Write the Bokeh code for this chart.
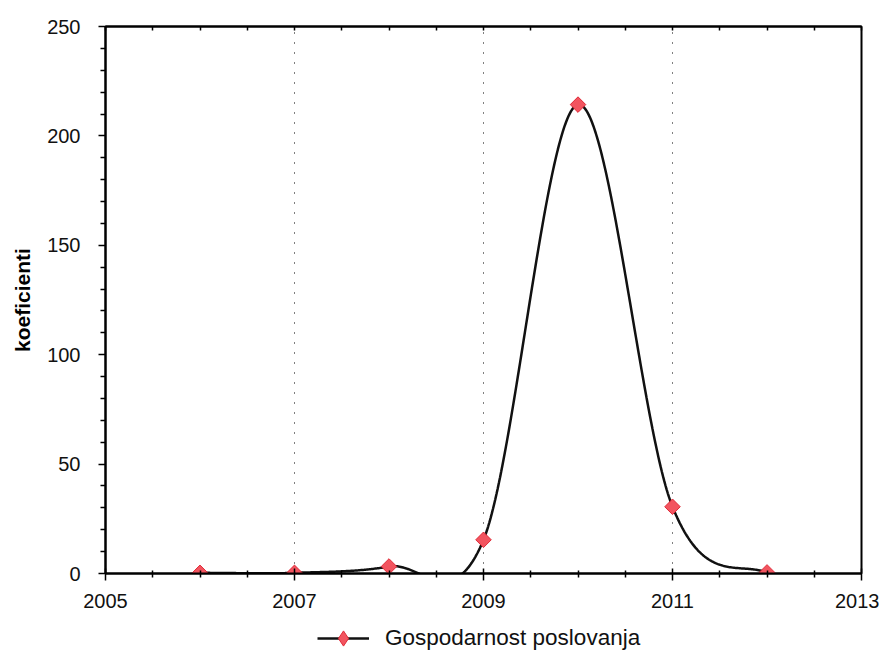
import numpy as np
from bokeh.plotting import figure
from bokeh.layouts import column
from bokeh.models import (Range1d, LinearAxis, FixedTicker, Legend, LegendItem,
                          ColumnDataSource)
from bokeh.embed import file_html
from bokeh.resources import INLINE

years = [2006, 2007, 2008, 2009, 2010, 2011, 2012]
values = [0.3, 0.3, 3.2, 15.4, 214.3, 30.5, 0.5]
series_name = "Gospodarnost poslovanja"
y_label = "koeficienti"
x_major_ticks = [2005, 2007, 2009, 2011, 2013]
x_minor_ticks = [2005.5, 2006, 2006.5, 2007.5, 2008, 2008.5, 2009.5, 2010, 2010.5,
                 2011.5, 2012, 2012.5]
y_major_ticks = [0, 50, 100, 150, 200, 250]
y_minor_ticks = [10, 20, 30, 40, 60, 70, 80, 90, 110, 120, 130, 140, 160, 170, 180, 190,
                 210, 220, 230, 240]

FONT = "Liberation Sans"
LINE_COLOR = "#111111"
MARK_FILL = "#f2545f"
MARK_LINE = "#e02a38"


def catmull_rom(x, y, samples=80):
    # smoothing of the series (cubic Hermite, Catmull-Rom tangents, duplicated end points)
    x = np.asarray(x, float)
    y = np.asarray(y, float)
    n = len(x)
    m = np.zeros(n)
    for i in range(n):
        lo = max(i - 1, 0)
        hi = min(i + 1, n - 1)
        m[i] = (y[hi] - y[lo]) / 2.0 / (x[1] - x[0])
    xs, ys = [], []
    for i in range(n - 1):
        h = x[i + 1] - x[i]
        t = np.linspace(0, 1, samples, endpoint=(i == n - 2))
        h00 = 2 * t ** 3 - 3 * t ** 2 + 1
        h10 = t ** 3 - 2 * t ** 2 + t
        h01 = -2 * t ** 3 + 3 * t ** 2
        h11 = t ** 3 - t ** 2
        xs.append(x[i] + t * h)
        ys.append(h00 * y[i] + h10 * h * m[i] + h01 * y[i + 1] + h11 * h * m[i + 1])
    return np.concatenate(xs), np.concatenate(ys)


xs, ys = catmull_rom(years, values)

p = figure(width=879, height=612, output_backend="svg", toolbar_location=None,
           x_range=Range1d(2005, 2013), y_range=Range1d(0, 250),
           min_border_left=105, min_border_right=18, min_border_top=26, min_border_bottom=39,
           x_axis_location=None, y_axis_location=None)
p.outline_line_color = "black"
p.outline_line_width = 2
p.background_fill_color = "white"
p.border_fill_color = "white"

xticker = FixedTicker(ticks=x_major_ticks, minor_ticks=x_minor_ticks)
yticker = FixedTicker(ticks=y_major_ticks, minor_ticks=y_minor_ticks)

xb = LinearAxis(ticker=xticker)
xb.axis_line_width = 2
xb.major_tick_in = 5
xb.major_tick_out = 7
xb.minor_tick_in = 3
xb.minor_tick_out = 4
xb.major_tick_line_width = 1.5
xb.minor_tick_line_width = 1.5
xb.major_label_text_font = FONT
xb.major_label_text_font_size = "20px"
xb.major_label_text_color = "#111"
xb.major_label_standoff = 13
p.add_layout(xb, "below")

xt = LinearAxis(ticker=FixedTicker(ticks=x_major_ticks + x_minor_ticks))
xt.axis_line_width = 2
xt.major_tick_in = 4
xt.major_tick_out = 0
xt.minor_tick_in = 0
xt.minor_tick_out = 0
xt.major_tick_line_width = 1.5
xt.major_label_text_font_size = "1px"
xt.major_label_text_color = None
xt.major_label_standoff = 0
p.add_layout(xt, "above")

yl = LinearAxis(ticker=yticker)
yl.axis_line_width = 2
yl.major_tick_in = 0
yl.major_tick_out = 7
yl.minor_tick_in = 0
yl.minor_tick_out = 5
yl.major_tick_line_width = 1.5
yl.minor_tick_line_width = 1.5
yl.major_label_text_font = FONT
yl.major_label_text_font_size = "20px"
yl.major_label_text_color = "#111"
yl.major_label_standoff = 18
yl.axis_label = y_label
yl.axis_label_text_font = FONT
yl.axis_label_text_font_size = "21px"
yl.axis_label_text_font_style = "bold"
yl.axis_label_text_color = "black"
yl.axis_label_standoff = 10
p.add_layout(yl, "left")

p.xgrid.ticker = xticker
p.xgrid.grid_line_color = "black"
p.xgrid.grid_line_dash = "1 9"
p.xgrid.grid_line_width = 1
p.ygrid.grid_line_color = None

src = ColumnDataSource(dict(x=years, y=values))
p.line(xs, ys, line_color=LINE_COLOR, line_width=2.5)
p.scatter("x", "y", source=src, marker="square", angle=np.pi / 4, size=11,
          fill_color=MARK_FILL, line_color=MARK_LINE, line_width=1)

# legend strip below the chart (its series renderers lie outside its ranges, so only
# the legend entry is visible)
leg = figure(width=879, height=45, output_backend="svg", toolbar_location=None,
             x_range=Range1d(0, 1), y_range=Range1d(-2, -1), min_border=0,
             x_axis_location=None, y_axis_location=None)
leg.outline_line_color = None
leg.xgrid.visible = False
leg.ygrid.visible = False
lr = leg.line("x", "y", source=src, line_color=LINE_COLOR, line_width=2.5)
sr = leg.scatter("x", "y", source=src, marker="diamond", size=11,
                 fill_color=MARK_FILL, line_color=MARK_LINE, line_width=1)
legend = Legend(items=[LegendItem(label=series_name, renderers=[lr, sr])],
                orientation="horizontal", location=(212, 0),
                label_text_font=FONT, label_text_font_size="22.5px", label_text_color="#111",
                glyph_width=52, glyph_height=38, border_line_color=None,
                background_fill_alpha=0, margin=0, padding=0, spacing=10, label_standoff=16)
leg.add_layout(legend, "center")

open("out.html", "w").write(file_html(column(p, leg), INLINE))
